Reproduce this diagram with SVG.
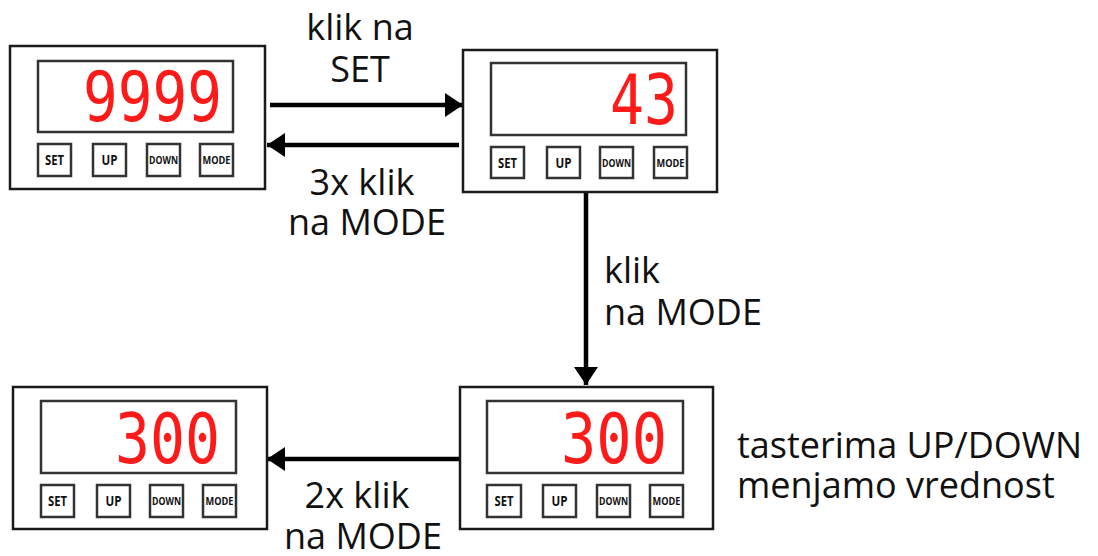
<svg xmlns="http://www.w3.org/2000/svg" width="1098" height="556" viewBox="0 0 1098 556">
<style>
.frame{fill:#fff;stroke:#1a1a1a;stroke-width:2.5}
.disp{fill:#fff;stroke:#333;stroke-width:2.5}
.btn{fill:#fff;stroke:#333;stroke-width:2.5}
.bl{font-family:"Open Sans","DejaVu Sans",sans-serif;font-weight:bold;fill:#111;text-anchor:middle}
.b1{font-size:14px}
.b2{font-size:10.5px}
.dig{font-family:"DejaVu Sans Mono",monospace;font-size:70px;fill:#ff1a1a}
.lbl{font-family:"Open Sans","Noto Sans",sans-serif;font-size:36px;fill:#111}
.mid{text-anchor:middle}
.conn{stroke:#000;stroke-width:4.5;fill:none}
</style>
<defs>
<marker id="ah" markerWidth="18" markerHeight="24" refX="18" refY="12" orient="auto" markerUnits="userSpaceOnUse">
<path d="M0,0 L18,12 L0,24 Z" fill="#000"/>
</marker>
</defs>

<g id="connectors">
<line class="conn" x1="270" y1="105" x2="463" y2="105" marker-end="url(#ah)"/>
<line class="conn" x1="459" y1="145" x2="267" y2="145" marker-end="url(#ah)"/>
<line class="conn" x1="586" y1="192" x2="586" y2="385" marker-end="url(#ah)"/>
<line class="conn" x1="459" y1="459" x2="267" y2="459" marker-end="url(#ah)"/>
</g>

<g id="node-9999">
<rect class="frame" x="10" y="46" width="255" height="143"/>
<rect class="disp" x="38" y="61" width="195" height="71"/>
<text class="dig" x="83" y="121" textLength="139" lengthAdjust="spacingAndGlyphs">9999</text>
<rect class="btn" x="38" y="144" width="33" height="32"/><text class="bl b1" x="54.5" y="165" textLength="19" lengthAdjust="spacingAndGlyphs">SET</text>
<rect class="btn" x="93" y="144" width="33" height="32"/><text class="bl b1" x="109.5" y="165" textLength="16" lengthAdjust="spacingAndGlyphs">UP</text>
<rect class="btn" x="147" y="144" width="33" height="32"/><text class="bl b2" x="163.5" y="164" textLength="29" lengthAdjust="spacingAndGlyphs">DOWN</text>
<rect class="btn" x="200" y="144" width="33" height="32"/><text class="bl b2" x="216.5" y="164" textLength="28" lengthAdjust="spacingAndGlyphs">MODE</text>
</g>

<g id="node-43">
<rect class="frame" x="463" y="50" width="254" height="142"/>
<rect class="disp" x="491" y="63" width="195" height="72"/>
<text class="dig" x="610" y="124" textLength="68" lengthAdjust="spacingAndGlyphs">43</text>
<rect class="btn" x="491" y="147" width="33" height="31"/><text class="bl b1" x="507.5" y="168" textLength="19" lengthAdjust="spacingAndGlyphs">SET</text>
<rect class="btn" x="547" y="147" width="33" height="31"/><text class="bl b1" x="563.5" y="168" textLength="16" lengthAdjust="spacingAndGlyphs">UP</text>
<rect class="btn" x="600" y="147" width="33" height="31"/><text class="bl b2" x="616.5" y="167" textLength="29" lengthAdjust="spacingAndGlyphs">DOWN</text>
<rect class="btn" x="654" y="147" width="33" height="31"/><text class="bl b2" x="670.5" y="167" textLength="28" lengthAdjust="spacingAndGlyphs">MODE</text>
</g>

<g id="node-300-left">
<rect class="frame" x="13" y="387" width="254" height="142"/>
<rect class="disp" x="41" y="401" width="195" height="72"/>
<text class="dig" x="115" y="463" textLength="105" lengthAdjust="spacingAndGlyphs">300</text>
<rect class="btn" x="41" y="485" width="33" height="32"/><text class="bl b1" x="57.5" y="506" textLength="19" lengthAdjust="spacingAndGlyphs">SET</text>
<rect class="btn" x="97" y="485" width="33" height="32"/><text class="bl b1" x="113.5" y="506" textLength="16" lengthAdjust="spacingAndGlyphs">UP</text>
<rect class="btn" x="150" y="485" width="33" height="32"/><text class="bl b2" x="166.5" y="505" textLength="29" lengthAdjust="spacingAndGlyphs">DOWN</text>
<rect class="btn" x="203" y="485" width="33" height="32"/><text class="bl b2" x="219.5" y="505" textLength="28" lengthAdjust="spacingAndGlyphs">MODE</text>
</g>

<g id="node-300-right">
<rect class="frame" x="460" y="387" width="253" height="142"/>
<rect class="disp" x="487" y="401" width="196" height="72"/>
<text class="dig" x="561" y="463" textLength="106" lengthAdjust="spacingAndGlyphs">300</text>
<rect class="btn" x="487" y="485" width="34" height="32"/><text class="bl b1" x="504" y="506" textLength="19" lengthAdjust="spacingAndGlyphs">SET</text>
<rect class="btn" x="543" y="485" width="33" height="32"/><text class="bl b1" x="559.5" y="506" textLength="16" lengthAdjust="spacingAndGlyphs">UP</text>
<rect class="btn" x="597" y="485" width="33" height="32"/><text class="bl b2" x="613.5" y="505" textLength="29" lengthAdjust="spacingAndGlyphs">DOWN</text>
<rect class="btn" x="650" y="485" width="33" height="32"/><text class="bl b2" x="666.5" y="505" textLength="28" lengthAdjust="spacingAndGlyphs">MODE</text>
</g>

<g id="labels">
<text class="lbl mid" x="360" y="40">klik na</text>
<text class="lbl mid" x="360" y="82">SET</text>
<text class="lbl mid" x="362" y="195">3x klik</text>
<text class="lbl mid" x="367" y="235">na MODE</text>
<text class="lbl" x="604" y="283">klik</text>
<text class="lbl" x="604" y="325">na MODE</text>
<text class="lbl mid" x="357" y="508">2x klik</text>
<text class="lbl mid" x="363" y="549">na MODE</text>
<text class="lbl" x="737" y="458">tasterima UP/DOWN</text>
<text class="lbl" x="737" y="498">menjamo vrednost</text>
</g>
</svg>
